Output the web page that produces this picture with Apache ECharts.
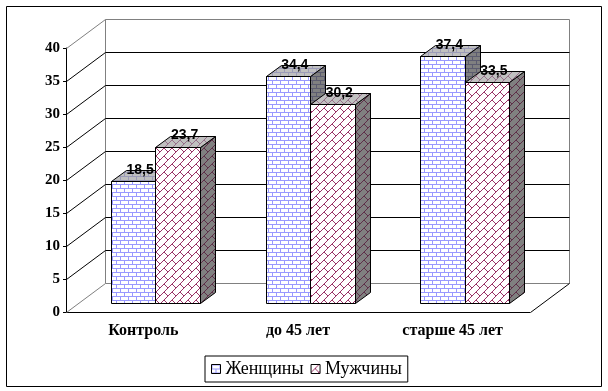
<!DOCTYPE html>
<html>
<head>
<meta charset="utf-8">
<style>
  html, body { margin: 0; padding: 0; background: #fff; }
  #chart { width: 608px; height: 391px; }
</style>
<script src="https://cdn.jsdelivr.net/npm/echarts@6/dist/echarts.min.js"></script>
</head>
<body>
<div id="chart"></div>
<script>
// данные
var categories = ['Контроль', 'до 45 лет', 'старше 45 лет'];
var women = [18.5, 34.4, 37.4];
var men = [23.7, 30.2, 33.5];
var yTicks = [0, 5, 10, 15, 20, 25, 30, 35, 40];
var seriesNames = ['Женщины', 'Мужчины'];

// глубина псевдо-3D
var wallDx = 39, wallDy = -29;
var barOffX = 12, barOffY = -9;
var barDx = 15, barDy = -11;
var barW = 44.5;

var brickRows = [
  '11111111',
  '10000000',
  '10000000',
  '10000000',
  '11111111',
  '00001000',
  '00001000',
  '00001000'
];
var diagRows = [
  '00000001',
  '00000010',
  '00000100',
  '00001000',
  '00011000',
  '00100100',
  '01000010',
  '10000001'
];

// заливка-узор 8x8
function makePattern(rows, fg, bg) {
  var c = document.createElement('canvas');
  c.width = 8;
  c.height = 8;
  var ctx = c.getContext('2d');
  ctx.fillStyle = bg;
  ctx.fillRect(0, 0, 8, 8);
  ctx.fillStyle = fg;
  rows.forEach(function (row, y) {
    for (var x = 0; x < 8; x++) {
      if (row[x] === '1') ctx.fillRect(x, y, 1, 1);
    }
  });
  return { image: c, repeat: 'repeat' };
}

var womenFills = {
  front: makePattern(brickRows, '#9999ff', '#ffffff'),
  top: makePattern(brickRows, '#9c9cb8', '#c0c0c0'),
  side: makePattern(brickRows, '#5c5c70', '#808080')
};
var menFills = {
  front: makePattern(diagRows, '#993366', '#ffffff'),
  top: makePattern(diagRows, '#96708a', '#c0c0c0'),
  side: makePattern(diagRows, '#5e3049', '#808080')
};

function px(v) {
  return Math.round(v) + 0.5;
}

function poly(points, fill) {
  return {
    type: 'polygon',
    shape: { points: points.map(function (p) { return [px(p[0]), px(p[1])]; }) },
    style: { fill: fill, stroke: '#000', lineWidth: 1 }
  };
}

function line(x1, y1, x2, y2, color) {
  return {
    type: 'line',
    shape: { x1: px(x1), y1: px(y1), x2: px(x2), y2: px(y2) },
    style: { stroke: color, lineWidth: 1 }
  };
}

// стенки и линии сетки
function renderWall(params, api) {
  var v = api.value(0);
  var p = api.coord([0, v]);
  var step = api.size([1, 0])[0];
  var left = p[0] - step / 2;
  var right = left + step * categories.length;
  var y = p[1];
  var edge = v === 0 || v === 40;
  var color = edge ? '#808080' : '#000';
  var children = [
    line(left, y, left + wallDx, y + wallDy, color),
    line(left + wallDx, y + wallDy, right + wallDx, y + wallDy, color)
  ];
  if (v === 0) {
    var h = api.size([0, 40])[1];
    children.push(line(left + wallDx, y + wallDy, left + wallDx, y + wallDy - h, '#808080'));
    children.push(line(right + wallDx, y + wallDy, right + wallDx, y + wallDy - h, '#808080'));
    children.push(line(right, y, right + wallDx, y + wallDy, '#000'));
  }
  return { type: 'group', children: children };
}

function barRenderer(shift, fills) {
  return function (params, api) {
    var top = api.coord([api.value(0), api.value(1)]);
    var base = api.coord([api.value(0), 0]);
    var x0 = top[0] + barOffX + shift;
    var x1 = x0 + barW;
    var yT = top[1] + barOffY;
    var yB = base[1] + barOffY;
    return {
      type: 'group',
      children: [
        poly([[x0, yT], [x1, yT], [x1, yB], [x0, yB]], fills.front),
        poly([[x1, yT], [x1 + barDx, yT + barDy], [x1 + barDx, yB + barDy], [x1, yB]], fills.side),
        poly([[x0, yT], [x0 + barDx, yT + barDy], [x1 + barDx, yT + barDy], [x1, yT]], fills.top),
        {
          type: 'text',
          style: {
            x: (x0 + x1) / 2 + 7,
            y: yT - 11,
            text: String(api.value(1)).replace('.', ','),
            align: 'center',
            verticalAlign: 'middle',
            font: 'bold 14px "Liberation Sans"',
            fill: '#000'
          }
        }
      ]
    };
  };
}

function toPairs(values) {
  return values.map(function (v, i) { return [i, v]; });
}

var chart = echarts.init(document.getElementById('chart'), null, { renderer: 'canvas' });

chart.setOption({
  animation: false,
  backgroundColor: '#fff',
  graphic: [{
    type: 'rect',
    silent: true,
    z: -1,
    shape: { x: 6.5, y: 6.5, width: 595, height: 380 },
    style: { fill: '#fff', stroke: '#000', lineWidth: 1 }
  }],
  grid: { left: 66, top: 48, width: 464, height: 264 },
  legend: {
    left: 205,
    top: 356,
    padding: [4, 6, 4, 6],
    itemGap: 7,
    itemWidth: 9,
    itemHeight: 9,
    borderColor: '#000',
    borderWidth: 1,
    icon: 'rect',
    data: seriesNames,
    itemStyle: { borderColor: '#000', borderWidth: 1 },
    textStyle: { fontFamily: 'Liberation Serif', fontSize: 18, lineHeight: 18, color: '#000' }
  },
  xAxis: {
    type: 'category',
    data: categories,
    axisLine: { lineStyle: { color: '#000' } },
    axisTick: { length: 3, lineStyle: { color: '#000' } },
    axisLabel: { fontFamily: 'Liberation Serif', fontWeight: 'bold', fontSize: 16, color: '#000', margin: 11 }
  },
  yAxis: {
    type: 'value',
    min: 0,
    max: 40,
    interval: 5,
    axisLine: { show: true, lineStyle: { color: '#000' } },
    axisTick: { show: true, length: 3, lineStyle: { color: '#000' } },
    splitLine: { show: false },
    axisLabel: { fontFamily: 'Liberation Serif', fontWeight: 'bold', fontSize: 15, color: '#000', margin: 6 }
  },
  series: [{
    type: 'custom',
    name: 'wall',
    silent: true,
    renderItem: renderWall,
    data: yTicks.map(function (v) { return [v]; }),
    encode: { y: 0 }
  }, {
    type: 'custom',
    name: seriesNames[0],
    renderItem: barRenderer(-barW, womenFills),
    itemStyle: { color: womenFills.front },
    data: toPairs(women),
    encode: { x: 0, y: 1 }
  }, {
    type: 'custom',
    name: seriesNames[1],
    renderItem: barRenderer(0, menFills),
    itemStyle: { color: menFills.front },
    data: toPairs(men),
    encode: { x: 0, y: 1 }
  }]
});
</script>
</body>
</html>
